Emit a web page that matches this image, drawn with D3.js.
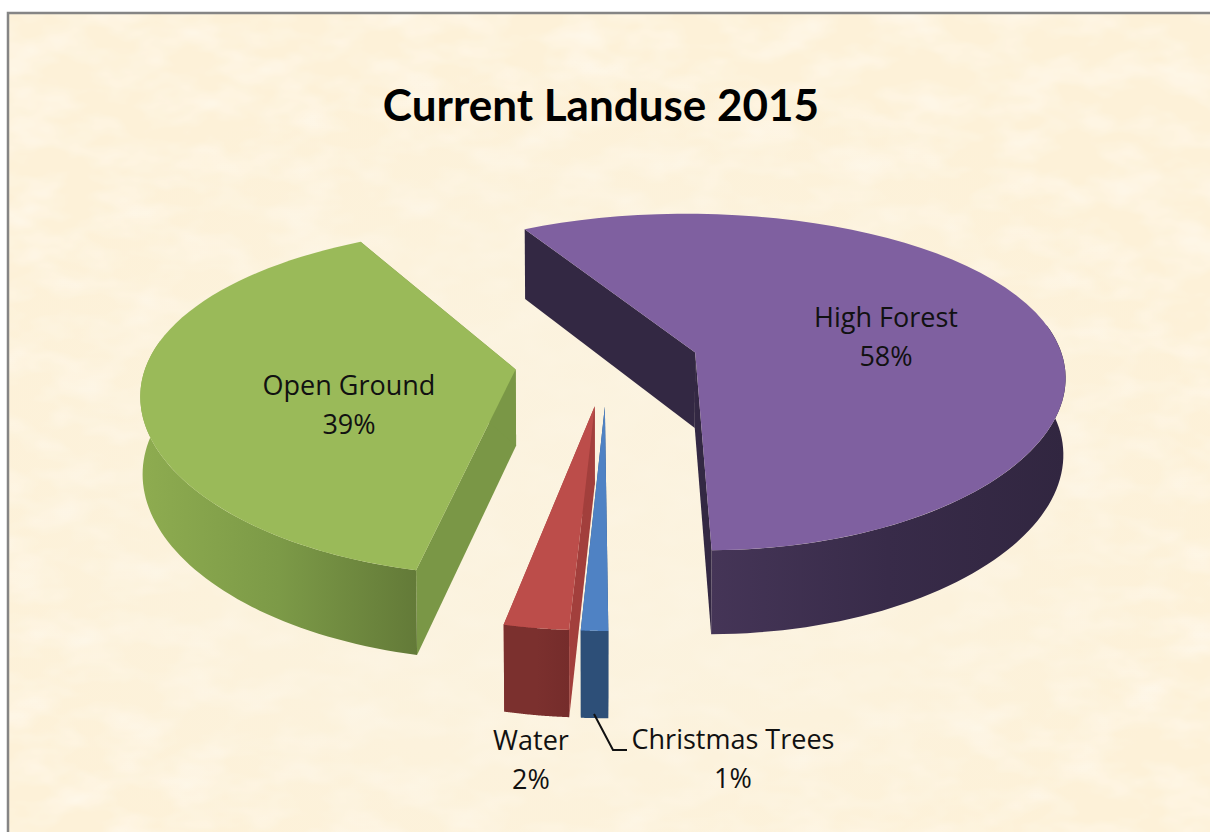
<!DOCTYPE html>
<meta charset="utf-8">
<style>
    html, body { margin: 0; padding: 0; background: #fff; }
    svg { display: block; }
    .title { font: bold 44px Lato, sans-serif; fill: #000; text-anchor: middle; }
    .label { font: 27px "Open Sans", sans-serif; fill: #111; text-anchor: middle; }
</style>

<body>
    <script src="https://d3js.org/d3.v7.min.js"></script>
    <script>
        // chart data, unrounded shares
        var categories = ["High Forest", "Christmas Trees", "Water", "Open Ground"];
        var values = [58, 1, 2.4, 38.6];
        var title = "Current Landuse 2015";

        var width = 1210, height = 832;

        // colours per slice: top, flat wall, rim gradient left -> right
        var topColors = ["#7f60a0", "#4f82c4", "#bc4d4a", "#9aba59"];
        var wallColors = ["#332843", "#2d4f78", "#a23f3c", "#7a9746"];
        var rimColors = [
            ["#453557", "#382b49", "#312640"],
            ["#2d4f78", "#2d4f78", "#2d4f78"],
            ["#7b302e", "#7b302e", "#752c2b"],
            ["#8eac50", "#7c9a47", "#637a38"]
        ];

        // where the labels sit
        var labelPos = {
            "High Forest": [886, 327],
            "Christmas Trees": [733, 749],
            "Water": [531, 750],
            "Open Ground": [349, 395]
        };

        // pie geometry, perspective camera looking down at the disc
        var radius = 369, explode = 92, depth = 76;
        var cx = 607, cy = 363, tilt = 0.452, camera = 2074, shrink = 0.995;
        var rad = Math.PI / 180;

        var pie = d3.pie().sort(null)
            .startAngle(-29.3 * rad)
            .endAngle(330.7 * rad);
        var slices = pie(values);

        // world (u right, v to viewer) to screen, lower = true for the bottom face
        function project(u, v, lower) {
            var k = camera / (camera - v);
            var sx = Math.pow(k, 0.7);
            if (lower) sx *= shrink;
            var y = cy + tilt * v * k;
            if (lower) y += depth * Math.pow(k, 0.55);
            return [cx + u * sx, y];
        }

        function apexOf(s) {
            var mid = (s.startAngle + s.endAngle) / 2;
            return [Math.sin(mid) * explode, -Math.cos(mid) * explode];
        }

        function rimPoint(s, a, lower) {
            var c = apexOf(s);
            return project(c[0] + Math.sin(a) * radius, c[1] - Math.cos(a) * radius, lower);
        }

        function arcPoints(s, a0, a1, lower) {
            return d3.range(0, 61).map(function(i) {
                return rimPoint(s, a0 + (a1 - a0) * i / 60, lower);
            });
        }

        var line = d3.line();

        var svg = d3.select("body").append("svg")
            .attr("width", width)
            .attr("height", height);

        var defs = svg.append("defs");

        // mottled paper
        var paper = defs.append("filter").attr("id", "paper")
            .attr("x", 0).attr("y", 0).attr("width", "100%").attr("height", "100%");
        paper.append("feTurbulence")
            .attr("type", "fractalNoise")
            .attr("baseFrequency", "0.018 0.034")
            .attr("numOctaves", 3)
            .attr("seed", 7);
        paper.append("feColorMatrix")
            .attr("values", "0 0 0 0 1  0 0 0 0 0.96  0 0 0 0 0.89  1.3 0 0 0 -0.5");

        var glow = defs.append("radialGradient").attr("id", "glow")
            .attr("cx", "48%").attr("cy", "60%").attr("r", "55%");
        glow.append("stop").attr("offset", "35%").attr("stop-color", "#fbf3e0").attr("stop-opacity", 0.8);
        glow.append("stop").attr("offset", "100%").attr("stop-color", "#fbf3e0").attr("stop-opacity", 0);

        // background and the frame on the top and left
        svg.append("rect").attr("x", 8).attr("y", 12)
            .attr("width", width - 8).attr("height", height - 12)
            .attr("fill", "#fdf1d8");
        svg.append("rect").attr("x", 8).attr("y", 12)
            .attr("width", width - 8).attr("height", height - 12)
            .attr("filter", "url(#paper)");
        svg.append("rect").attr("x", 8).attr("y", 12)
            .attr("width", width - 8).attr("height", height - 12)
            .attr("fill", "url(#glow)");
        svg.append("path")
            .attr("d", "M8,832V13H1210")
            .attr("fill", "none")
            .attr("stroke", "#858585")
            .attr("stroke-width", 2.5);

        svg.append("text").attr("class", "title")
            .attr("x", 601).attr("y", 121)
            .text(title);

        // painter's order: as the categories go, each slice walls, rim, then top
        slices.forEach(function(s, i) {
            var g = svg.append("g");
            var c = apexOf(s);
            var apexTop = project(c[0], c[1], false);
            var apexLow = project(c[0], c[1], true);

            [s.startAngle, s.endAngle].forEach(function(a) {
                g.append("path")
                    .attr("d", line([apexTop, rimPoint(s, a, false), rimPoint(s, a, true), apexLow]) + "Z")
                    .attr("fill", wallColors[i]);
            });

            // only the part of the rim turned to the viewer
            var a0 = Math.max(s.startAngle, 80 * rad);
            var a1 = Math.min(s.endAngle, 280 * rad);
            if (a1 > a0) {
                var upper = arcPoints(s, a0, a1, false);
                var lower = arcPoints(s, a0, a1, true);
                var xs = d3.extent(upper.concat(lower), function(p) { return p[0]; });
                var grad = defs.append("linearGradient")
                    .attr("id", "rim" + i)
                    .attr("gradientUnits", "userSpaceOnUse")
                    .attr("x1", xs[0]).attr("x2", xs[1])
                    .attr("y1", 0).attr("y2", 0);
                rimColors[i].forEach(function(col, j) {
                    grad.append("stop").attr("offset", j / 2).attr("stop-color", col);
                });
                g.append("path")
                    .attr("d", line(upper.concat(lower.reverse())) + "Z")
                    .attr("fill", "url(#rim" + i + ")");
            }

            g.append("path")
                .attr("d", line([apexTop].concat(arcPoints(s, s.startAngle, s.endAngle, false))) + "Z")
                .attr("fill", topColors[i]);
        });

        // leader for the Christmas Trees label
        svg.append("path")
            .attr("d", "M594,714L613,750H627")
            .attr("fill", "none")
            .attr("stroke", "#111")
            .attr("stroke-width", 2);

        categories.forEach(function(name, i) {
            var p = labelPos[name];
            var t = svg.append("text").attr("class", "label")
                .attr("x", p[0]).attr("y", p[1]);
            t.append("tspan").attr("x", p[0]).text(name);
            t.append("tspan").attr("x", p[0]).attr("dy", 39).text(Math.round(values[i]) + "%");
        });
    </script>
</body>
